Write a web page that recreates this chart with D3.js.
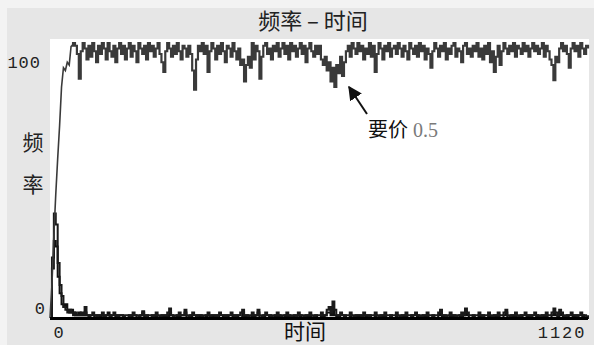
<!DOCTYPE html>
<html>
<head>
<meta charset="utf-8">
<script src="https://cdn.jsdelivr.net/npm/d3@7/dist/d3.min.js"></script>
<style>
  html, body { margin: 0; padding: 0; background: #f3f3f3; }
  svg { display: block; }
</style>
</head>
<body>
<svg id="chart" width="594" height="345"></svg>
<script>
// Time axis: one sample every 4 ticks, 0..1120
const tStep = 4;
const tMax = 1120;
const xTickLabels = ["0", "1120"];
const yTickLabels = ["0", "100"];

// Frequency of the ask price 0.5
const ask05 = [
  0, 12, 30, 45, 58, 70, 84, 91, 90, 93, 92, 99, 100, 99, 96, 87, 97, 100, 98, 94,
  99, 95, 100, 97, 93, 99, 96, 100, 98, 94, 100, 97, 95, 99, 93, 98, 100, 96, 99, 94,
  98, 100, 95, 99, 97, 93, 100, 98, 96, 99, 94, 100, 97, 99, 95, 98, 100, 96, 93, 89.5,
  97, 100, 98, 95, 99, 96, 100, 97, 94, 99, 98, 95, 99, 96, 90, 83, 94, 99, 97, 100,
  96, 99, 89.5, 97, 100, 98, 94, 99, 96, 100, 97, 93, 99, 98, 95, 100, 97, 94, 98, 92,
  94, 86, 92, 95, 91, 100, 94, 99, 97, 87, 95, 99, 100, 96, 98, 94, 99, 97, 100, 95,
  98, 100, 96, 99, 94, 100, 97, 99, 95, 98, 100, 96, 99, 93, 98, 100, 97, 95, 99, 96,
  99, 94, 92, 95, 90, 93, 86, 91, 84, 92, 89, 95, 88, 93, 97, 99, 95, 100, 98, 96,
  100, 97, 99, 94, 98, 96, 100, 95, 99, 89.5, 96, 100, 98, 94, 99, 97, 100, 95, 98, 99,
  96, 100, 98, 95, 99, 97, 94, 100, 98, 96, 99, 95, 100, 97, 99, 94, 98, 96, 91, 97,
  100, 98, 95, 99, 97, 100, 94, 98, 96, 99, 100, 95, 98, 97, 93, 99, 100, 96, 98, 95,
  99, 97, 100, 95, 98, 94, 99, 96, 100, 93, 97, 89.5, 95, 99, 92, 97, 100, 98, 96, 99,
  97, 100, 95, 99, 98, 96, 100, 97, 99, 95, 98, 100, 97, 99, 96, 98, 100, 95, 99, 97,
  94, 92, 86.5, 95, 93, 98, 100, 97, 99, 96, 91, 98, 100, 97, 99, 95, 100, 98, 96, 99,
  98
];

// Frequencies of the other ask prices
const askOtherA = [
  0, 22, 38, 34, 20, 12, 8, 4, 3, 2, 3, 2, 1, 2, 1, 1, 2, 1, 4, 1,
  0, 1, 2, 1, 0, 1, 1, 2, 0, 1, 1, 0, 1, 2, 1, 0, 1, 1, 0, 1,
  1, 0, 1, 2, 1, 1, 0, 1, 2.5, 1, 0, 1, 1, 0, 1, 2, 1, 0, 1, 1,
  1, 2, 3.5, 1, 0, 1, 1, 2, 1, 1, 3, 1, 0, 1, 2, 1, 0, 1, 1, 0,
  1, 1, 2, 0, 1, 1, 0, 1, 2, 1, 1, 0, 1, 1, 2, 1, 0, 1, 1, 2,
  3, 1, 1, 0, 1, 2, 1, 1, 3, 1, 0, 1, 2, 1, 1, 0, 1, 1, 2, 1,
  0, 1, 1, 2, 1, 0, 1, 1, 0, 2, 1, 1, 0, 1, 1, 2, 1, 0, 1, 1,
  1, 2, 1, 1, 3, 4, 2, 6, 3, 1, 1, 2, 1, 0, 1, 1, 2, 1, 0, 1,
  1, 1, 0, 2, 1, 1, 0, 1, 1, 2, 1, 0, 1, 1, 2, 1, 1, 0, 1, 1,
  2, 1, 0, 1, 1, 2, 1, 1, 0, 1, 2, 1, 1, 0, 1, 1, 2, 1, 1, 0,
  1, 1, 2, 3, 1, 1, 0, 1, 2, 1, 1, 0, 1, 1, 2, 1, 3.5, 2, 1, 1,
  0, 1, 1, 2, 1, 0, 1, 1, 2, 1, 0, 1, 1, 2, 1, 1, 2, 3, 1, 0,
  1, 1, 2, 1, 0, 1, 1, 2, 1, 1, 0, 1, 2, 1, 1, 0, 1, 1, 2, 1,
  1, 2, 3.5, 2, 1, 3, 2, 1, 0, 1, 1, 2, 1, 1, 0, 1, 2, 1, 1, 0,
  1
];

const askOtherB = [
  0, 18, 28, 26, 15, 9, 5, 4, 5, 3, 2, 3, 2, 1, 1, 2, 1, 1, 2, 1,
  1, 0, 0, 1, 1, 0, 1, 0, 0, 1, 2, 1, 0, 0, 1, 0, 1, 1, 0, 0,
  0, 1, 0, 1, 1, 0, 0, 1, 2, 0, 1, 0, 0, 1, 0, 1, 0, 0, 1, 0,
  1, 0, 2, 1, 0, 0, 1, 0, 1, 1, 2, 0, 0, 1, 0, 0, 1, 0, 1, 0,
  0, 1, 0, 0, 1, 0, 1, 1, 0, 0, 1, 0, 1, 0, 0, 1, 0, 1, 0, 0,
  2, 0, 1, 0, 0, 1, 0, 1, 2, 0, 0, 1, 0, 0, 1, 0, 0, 1, 0, 1,
  0, 0, 1, 0, 1, 0, 0, 1, 0, 0, 1, 0, 0, 1, 0, 1, 0, 0, 1, 0,
  0, 1, 0, 1, 2, 2, 1, 3, 1, 0, 1, 0, 0, 1, 0, 0, 1, 0, 0, 1,
  0, 1, 0, 0, 1, 0, 1, 0, 0, 1, 0, 0, 1, 0, 1, 0, 0, 1, 0, 0,
  1, 0, 0, 1, 0, 1, 0, 0, 1, 0, 0, 1, 0, 0, 1, 0, 1, 0, 0, 1,
  0, 0, 1, 2, 0, 1, 0, 0, 1, 0, 1, 0, 0, 1, 0, 1, 2, 1, 0, 0,
  1, 0, 0, 1, 0, 1, 0, 0, 1, 0, 0, 1, 0, 1, 0, 0, 1, 2, 0, 0,
  1, 0, 1, 0, 0, 1, 0, 0, 1, 0, 1, 0, 0, 1, 0, 0, 1, 0, 1, 0,
  0, 1, 2, 1, 0, 2, 1, 0, 0, 1, 0, 0, 1, 0, 1, 0, 0, 1, 0, 0,
  0
];

const svg = d3.select("#chart");
const W = 594, H = 345;
const plot = { left: 50, right: 589, top: 39, bottom: 320 };

// panel background
svg.append("rect").attr("x", 7).attr("y", 8).attr("width", W - 7).attr("height", H - 8)
  .attr("fill", "#e6e6e6");
svg.append("rect").attr("x", plot.left).attr("y", plot.top)
  .attr("width", plot.right - plot.left).attr("height", plot.bottom - plot.top)
  .attr("fill", "#ffffff");

const x = d3.scaleLinear().domain([0, tMax]).range([plot.left, 588]);
const y = d3.scaleLinear().domain([0, 100]).range([318, 43]);

const toPoints = arr => arr.map((v, i) => [i * tStep, v]);

const lineLin = d3.line().x(d => x(d[0])).y(d => y(d[1]));
const lineStep = d3.line().x(d => x(d[0])).y(d => y(d[1])).curve(d3.curveStepAfter);

const gLines = svg.append("g");
gLines.append("path").datum(toPoints(askOtherB)).attr("d", lineStep)
  .attr("fill", "none").attr("stroke", "#111").attr("stroke-width", 2);
gLines.append("path").datum(toPoints(askOtherA)).attr("d", lineStep)
  .attr("fill", "none").attr("stroke", "#1a1a1a").attr("stroke-width", 2);

// 0.5 series: linear through the opening rise, stepped afterwards
const mainPts = toPoints(ask05);
gLines.append("path").datum(mainPts.slice(0, 12)).attr("d", lineLin)
  .attr("fill", "none").attr("stroke", "#3a3a3a").attr("stroke-width", 1.6);
gLines.append("path").datum(mainPts.slice(11)).attr("d", lineStep)
  .attr("fill", "none").attr("stroke", "#3a3a3a").attr("stroke-width", 2.2);

// baseline
svg.append("line").attr("x1", plot.left).attr("x2", 588)
  .attr("y1", 318.5).attr("y2", 318.5).attr("stroke", "#000").attr("stroke-width", 3);

const monoFont = "'Liberation Mono', 'DejaVu Sans Mono', monospace";
const cjkFont = "'Noto Sans CJK SC', sans-serif";

// y axis tick labels (min at bottom, max at top)
const yAxis = d3.axisLeft(y).tickValues([0, 100]).tickSize(0).tickPadding(0)
  .tickFormat((d, i) => yTickLabels[i]);
const gy = svg.append("g").attr("transform", `translate(${plot.left - 4},0)`).call(yAxis);
gy.select(".domain").remove();
gy.selectAll("text")
  .attr("font-family", monoFont).attr("font-size", 17).attr("fill", "#222")
  .attr("letter-spacing", 1)
  .attr("dx", d => d === 0 ? 0 : -5)
  .attr("dy", d => d === 0 ? "-0.25em" : "1.45em");

// x axis tick labels
const xAxis = d3.axisBottom(x).tickValues([0, tMax]).tickSize(0).tickPadding(0)
  .tickFormat((d, i) => xTickLabels[i]);
const gx = svg.append("g").attr("transform", "translate(0,326)").call(xAxis);
gx.select(".domain").remove();
gx.selectAll("text")
  .attr("font-family", monoFont).attr("font-size", 17).attr("fill", "#222")
  .attr("letter-spacing", 2)
  .attr("text-anchor", d => d === 0 ? "start" : "end")
  .attr("dx", d => d === 0 ? 3 : -2)
  .attr("dy", "0.72em");

// title
svg.append("text").attr("x", 313).attr("y", 29).attr("text-anchor", "middle")
  .attr("font-family", cjkFont).attr("font-size", 22).attr("fill", "#222")
  .text("频率 – 时间");

// axis titles
svg.append("text").attr("x", 305).attr("y", 339).attr("text-anchor", "middle")
  .attr("font-family", cjkFont).attr("font-size", 21).attr("fill", "#111")
  .text("时间");
svg.append("text").attr("x", 33).attr("y", 150).attr("text-anchor", "middle")
  .attr("font-family", cjkFont).attr("font-size", 21).attr("fill", "#222")
  .text("频");
svg.append("text").attr("x", 33).attr("y", 192).attr("text-anchor", "middle")
  .attr("font-family", cjkFont).attr("font-size", 21).attr("fill", "#222")
  .text("率");

// annotation for the 0.5 ask price
const defs = svg.append("defs");
defs.append("marker").attr("id", "arrowHead").attr("viewBox", "0 0 10 10")
  .attr("refX", 9).attr("refY", 5).attr("markerWidth", 7).attr("markerHeight", 7)
  .attr("orient", "auto").attr("markerUnits", "strokeWidth")
  .append("path").attr("d", "M0,0 L10,5 L0,10 z").attr("fill", "#111");
svg.append("line").attr("x1", 367).attr("y1", 114).attr("x2", 349).attr("y2", 87)
  .attr("stroke", "#111").attr("stroke-width", 2).attr("marker-end", "url(#arrowHead)");
const ann = svg.append("text").attr("x", 368).attr("y", 137);
ann.append("tspan").attr("font-family", cjkFont).attr("font-size", 20).attr("fill", "#111")
  .text("要价");
ann.append("tspan").attr("dx", 5).attr("font-family", "'Liberation Serif', serif")
  .attr("font-size", 20).attr("fill", "#7a7a7a").text("0.5");
</script>
</body>
</html>
